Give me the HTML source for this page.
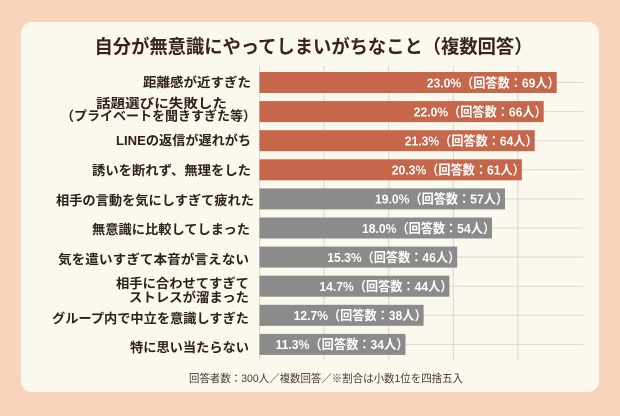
<!DOCTYPE html>
<html><head><meta charset="utf-8"><style>
html,body{margin:0;padding:0;background:#f8d4bd;}
svg{display:block;}
text{font-family:"Liberation Sans","Noto Sans CJK JP",sans-serif;}
</style></head><body>
<svg width="620" height="416" viewBox="0 0 620 416" xmlns="http://www.w3.org/2000/svg">
<rect x="0" y="0" width="620" height="416" fill="#f8d4bd"/>
<rect x="21" y="22" width="578" height="370" rx="11" fill="#fbf8ee"/>
<text x="94.5" y="53" font-size="19" font-weight="700" fill="#3a2418" textLength="438" lengthAdjust="spacingAndGlyphs">自分が無意識にやってしまいがちなこと（複数回答）</text>
<g stroke="#dcd6ca" stroke-width="1">
<line x1="259.5" y1="66" x2="259.5" y2="360"/>
<line x1="324.1" y1="66" x2="324.1" y2="360"/>
<line x1="388.7" y1="66" x2="388.7" y2="360"/>
<line x1="453.3" y1="66" x2="453.3" y2="360"/>
<line x1="517.9" y1="66" x2="517.9" y2="360"/>
<line x1="259.5" y1="82.5" x2="583" y2="82.5"/>
<line x1="259.5" y1="111.6" x2="583" y2="111.6"/>
<line x1="259.5" y1="140.7" x2="583" y2="140.7"/>
<line x1="259.5" y1="169.8" x2="583" y2="169.8"/>
<line x1="259.5" y1="198.9" x2="583" y2="198.9"/>
<line x1="259.5" y1="228" x2="583" y2="228"/>
<line x1="259.5" y1="257.1" x2="583" y2="257.1"/>
<line x1="259.5" y1="286.2" x2="583" y2="286.2"/>
<line x1="259.5" y1="315.3" x2="583" y2="315.3"/>
<line x1="259.5" y1="344.4" x2="583" y2="344.4"/>
</g>
<g>
<rect x="259.5" y="72" width="297.2" height="21" fill="#c6664a"/>
<rect x="259.5" y="101.1" width="284.2" height="21" fill="#c6664a"/>
<rect x="259.5" y="130.2" width="275.2" height="21" fill="#c6664a"/>
<rect x="259.5" y="159.3" width="262.3" height="21" fill="#c6664a"/>
<rect x="259.5" y="188.4" width="245.5" height="21" fill="#8b8b8b"/>
<rect x="259.5" y="217.5" width="232.5" height="21" fill="#8b8b8b"/>
<rect x="259.5" y="246.6" width="197.7" height="21" fill="#8b8b8b"/>
<rect x="259.5" y="275.7" width="189.9" height="21" fill="#8b8b8b"/>
<rect x="259.5" y="304.8" width="164.1" height="21" fill="#8b8b8b"/>
<rect x="259.5" y="333.9" width="146" height="21" fill="#8b8b8b"/>
</g>
<g font-size="13" font-weight="700" fill="#ffffff" text-anchor="end">
<text x="559.7" y="87.3" textLength="133" lengthAdjust="spacingAndGlyphs">23.0%（回答数：69人）</text>
<text x="546.7" y="116.4" textLength="133" lengthAdjust="spacingAndGlyphs">22.0%（回答数：66人）</text>
<text x="537.7" y="145.5" textLength="133" lengthAdjust="spacingAndGlyphs">21.3%（回答数：64人）</text>
<text x="524.8" y="174.6" textLength="133" lengthAdjust="spacingAndGlyphs">20.3%（回答数：61人）</text>
<text x="508" y="203.7" textLength="133" lengthAdjust="spacingAndGlyphs">19.0%（回答数：57人）</text>
<text x="495" y="232.8" textLength="133" lengthAdjust="spacingAndGlyphs">18.0%（回答数：54人）</text>
<text x="460.2" y="261.9" textLength="133" lengthAdjust="spacingAndGlyphs">15.3%（回答数：46人）</text>
<text x="452.4" y="291" textLength="133" lengthAdjust="spacingAndGlyphs">14.7%（回答数：44人）</text>
<text x="426.6" y="320.1" textLength="133" lengthAdjust="spacingAndGlyphs">12.7%（回答数：38人）</text>
<text x="408.5" y="349.2" textLength="133" lengthAdjust="spacingAndGlyphs">11.3%（回答数：34人）</text>
</g>
<g font-size="13" font-weight="700" fill="#2e211b">
<text x="251" y="86.8" text-anchor="end" textLength="108" lengthAdjust="spacingAndGlyphs">距離感が近すぎた</text>
<text x="161.5" y="107.8" text-anchor="middle" textLength="131" lengthAdjust="spacingAndGlyphs">話題選びに失敗した</text>
<text x="256" y="120.3" text-anchor="end" textLength="195" lengthAdjust="spacingAndGlyphs">（プライベートを聞きすぎた等）</text>
<text x="251" y="144.8" text-anchor="end" textLength="135" lengthAdjust="spacingAndGlyphs">LINEの返信が遅れがち</text>
<text x="251" y="174.8" text-anchor="end" textLength="159" lengthAdjust="spacingAndGlyphs">誘いを断れず、無理をした</text>
<text x="254" y="204.8" text-anchor="end" textLength="198" lengthAdjust="spacingAndGlyphs">相手の言動を気にしすぎて疲れた</text>
<text x="250" y="233.8" text-anchor="end" textLength="158" lengthAdjust="spacingAndGlyphs">無意識に比較してしまった</text>
<text x="249" y="263.8" text-anchor="end" textLength="191" lengthAdjust="spacingAndGlyphs">気を遣いすぎて本音が言えない</text>
<text x="249" y="287.8" text-anchor="end" textLength="133" lengthAdjust="spacingAndGlyphs">相手に合わせてすぎて</text>
<text x="249" y="301.8" text-anchor="end" textLength="120" lengthAdjust="spacingAndGlyphs">ストレスが溜まった</text>
<text x="249" y="322.8" text-anchor="end" textLength="197" lengthAdjust="spacingAndGlyphs">グループ内で中立を意識しすぎた</text>
<text x="249" y="351.8" text-anchor="end" textLength="119" lengthAdjust="spacingAndGlyphs">特に思い当たらない</text>
</g>
<text x="326" y="382" font-size="11" fill="#4a3a30" text-anchor="middle" textLength="274" lengthAdjust="spacingAndGlyphs">回答者数：300人／複数回答／※割合は小数1位を四捨五入</text>
</svg>
</body></html>
